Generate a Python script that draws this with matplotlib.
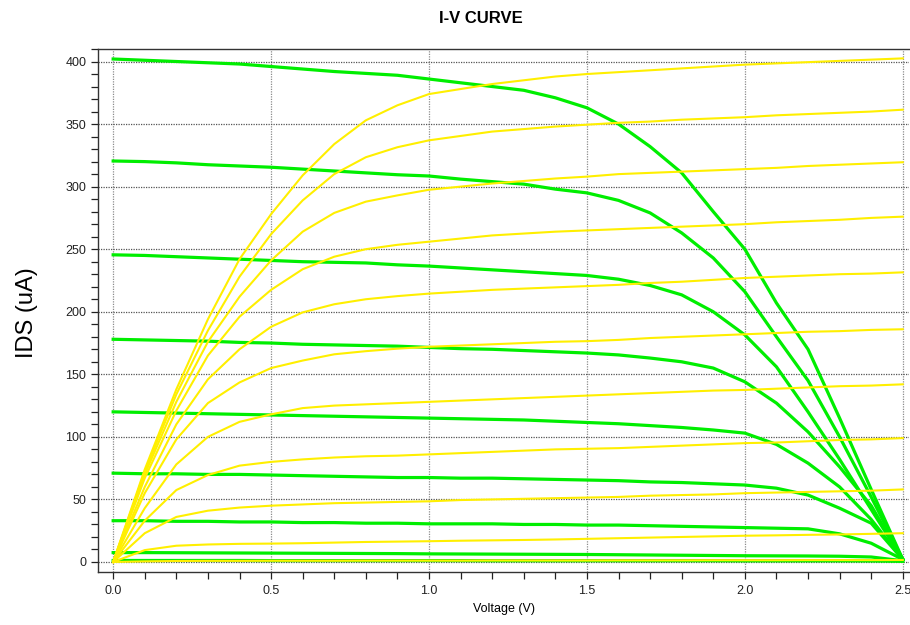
import matplotlib.pyplot as plt
from matplotlib.ticker import MultipleLocator

plt.rcParams['font.family'] = ['Liberation Sans', 'DejaVu Sans']

# sweep voltage (V)
vds = [0.0, 0.1, 0.2, 0.3, 0.4, 0.5, 0.6, 0.7, 0.8, 0.9, 1.0, 1.1, 1.2,
       1.3, 1.4, 1.5, 1.6, 1.7, 1.8, 1.9, 2.0, 2.1, 2.2, 2.3, 2.4, 2.5]

# green family (uA), current falls to zero at 2.5 V
green_1 = [402, 401, 400, 399, 398, 396, 394, 392, 390.5, 389, 386, 383, 380,
           377, 371, 363, 350, 332, 311, 280, 250, 207, 170, 115, 58, 2]
green_2 = [320.5, 320, 319, 317.5, 316.5, 315.5, 314, 312.5, 311, 309.5, 308.5, 306, 304,
           302, 298, 295, 289, 279, 263, 243, 216, 180, 145, 100, 52, 2]
green_3 = [245.5, 245, 244, 243, 242, 241, 240, 239.5, 239, 237.5, 236.5, 235, 233.5,
           232, 230.5, 229, 226, 221, 213.5, 200, 181.5, 156, 120, 82, 42, 2]
green_4 = [178, 177.5, 177, 176.5, 175.5, 175, 174, 173.5, 173, 172.5, 171.5, 170.5, 170,
           169, 168, 167, 165.5, 163, 160, 155, 144, 127, 104, 76, 45, 2]
green_5 = [120, 119.5, 119, 118.5, 118, 117.5, 117, 116.5, 116, 115.5, 115, 114.5, 114,
           113.5, 112.5, 111.5, 110.5, 109, 107.5, 105.5, 103, 94, 79, 60, 34, 2]
green_6 = [71, 70.5, 70.5, 70, 70, 69.5, 69, 68.5, 68, 67.5, 67.5, 67, 67,
           66.5, 66, 65.5, 65, 64, 63.5, 62.5, 61.5, 59, 53.5, 43, 31, 2]
green_7 = [33, 33, 32.5, 32.5, 32, 32, 31.5, 31.5, 31, 31, 30.5, 30.5, 30.5,
           30, 30, 29.5, 29.5, 29, 28.5, 28, 27.5, 27, 26.5, 22.5, 15, 2]
green_8 = [7.5, 7.5, 7.4, 7.3, 7.2, 7.1, 7, 6.9, 6.8, 6.7, 6.5, 6.4, 6.3,
           6.2, 6.1, 6, 5.8, 5.6, 5.4, 5.2, 5, 4.9, 4.8, 4.6, 4, 1]
green_9 = [1.2, 1.2, 1.2, 1.2, 1.2, 1.1, 1.1, 1.1, 1.1, 1.1, 1.1, 1.1, 1.0,
           1.0, 1.0, 1.0, 1.0, 1.0, 1.0, 1.0, 0.9, 0.9, 0.9, 0.9, 0.8, 0.5]

# yellow family (uA), rises from zero and saturates
yellow_1 = [0, 74, 138, 194, 242, 278, 309, 334, 353, 365, 374, 378, 382,
            385, 388, 390, 391.5, 393, 394.5, 396, 397.5, 398.5, 399.5, 400.5, 401.5, 402.5]
yellow_2 = [0, 72, 134, 185, 228, 262, 289, 310, 323.5, 331.5, 337, 340.5, 344,
            346, 348, 349.5, 351, 352, 353.5, 354.5, 355.5, 357, 358, 359, 360, 361.5]
yellow_3 = [0, 70, 128, 176, 212, 241, 264, 279, 288, 293, 297.5, 300, 302.5,
            304.5, 306.5, 308, 310, 311, 312, 313, 314, 315, 316.5, 317.5, 318.5, 319.5]
yellow_4 = [0, 67, 121, 165, 196, 217.5, 234, 244, 250, 253.5, 256, 258.5, 261,
            262.5, 264, 265, 266, 267, 268, 269, 270, 271.5, 272.5, 273.5, 275, 276]
yellow_5 = [0, 60, 110, 146, 170, 188, 199.5, 206, 210, 212.5, 214.5, 216, 217.5,
            218.5, 219.5, 220.5, 221.5, 223, 224, 225.5, 227, 228, 229, 230, 230.5, 231.5]
yellow_6 = [0, 55, 98, 127, 143.5, 155, 161, 166, 168.5, 170.5, 172, 173, 174,
            175, 176, 176.5, 177.5, 179, 180, 181, 182, 183, 184, 184.5, 185.5, 186]
yellow_7 = [0, 43, 78, 100, 112, 118, 123, 125, 126, 127, 128, 129, 130,
            131, 132, 133, 134, 135, 136, 137, 137.5, 138.5, 139.5, 140.5, 141, 142]
yellow_8 = [0, 33, 57.5, 69.5, 77, 80, 82, 83.5, 84.5, 85, 86, 87, 88,
            89, 90, 90.5, 91, 92, 93, 94, 95, 95.5, 96.5, 97.5, 98, 99]
yellow_9 = [0, 23, 36, 41, 43.5, 45, 46, 47, 47.5, 48, 48.5, 49.5, 50,
            50.5, 51, 51.5, 52, 53, 53.5, 54, 55, 55.5, 56, 56.5, 57, 58]
yellow_10 = [0, 9.5, 13, 14, 14.5, 14.7, 15, 15.5, 16, 16.3, 16.6, 17, 17.3,
             17.6, 18, 18.5, 19, 19.5, 20, 20.5, 21, 21.3, 21.7, 22, 22.5, 23]
yellow_11 = [0, 0.5, 0.8, 0.9, 0.9, 1.0, 1.0, 1.0, 1.1, 1.1, 1.1, 1.1, 1.2,
             1.2, 1.2, 1.2, 1.3, 1.3, 1.3, 1.4, 1.4, 1.4, 1.5, 1.5, 1.5, 1.6]

greens = [green_1, green_2, green_3, green_4, green_5, green_6, green_7, green_8, green_9]
yellows = [yellow_1, yellow_2, yellow_3, yellow_4, yellow_5, yellow_6, yellow_7,
           yellow_8, yellow_9, yellow_10, yellow_11]

fig = plt.figure(figsize=(9.1, 6.25), dpi=100)
ax = fig.add_axes([0.1077, 0.0848, 0.8913, 0.8368])

for g in greens:
    ax.plot(vds, g, color='#00ee00', lw=2.3, zorder=3)
for y in yellows:
    ax.plot(vds, y, color='#ffef00', lw=1.5, zorder=4)

ax.set_xlim(-0.048, 2.52)
ax.set_ylim(-8, 410)
ax.xaxis.set_major_locator(MultipleLocator(0.5))
ax.xaxis.set_minor_locator(MultipleLocator(0.1))
ax.yaxis.set_major_locator(MultipleLocator(50))
ax.yaxis.set_minor_locator(MultipleLocator(10))
ax.xaxis.set_major_formatter(lambda v, pos: f'{v:.1f}')

ax.grid(True, axis='x', which='major', color='#8c8c8c', linestyle=(0, (1, 1)), lw=0.9, zorder=1)
ax.grid(True, axis='y', which='major', color='#555555', linestyle=(0, (1, 1)), lw=0.9, zorder=1)

ax.tick_params(which='both', direction='out', length=5, width=0.9, color='#222222',
               labelsize=9, labelcolor='#222222')
ax.tick_params(axis='x', pad=4)
for s in ['left', 'bottom', 'top']:
    ax.spines[s].set_color('#333333')
    ax.spines[s].set_linewidth(1.0)
ax.spines['right'].set_visible(False)

fig.text(0.528, 0.970, 'I-V CURVE', ha='center', va='center', fontsize=12, fontweight='bold')
ax.set_xlabel('Voltage (V)', fontsize=9, labelpad=5)
fig.text(0.030, 0.500, 'IDS (uA)', rotation=90, ha='center', va='center', fontsize=17)

fig.savefig('out.png', dpi=100)
